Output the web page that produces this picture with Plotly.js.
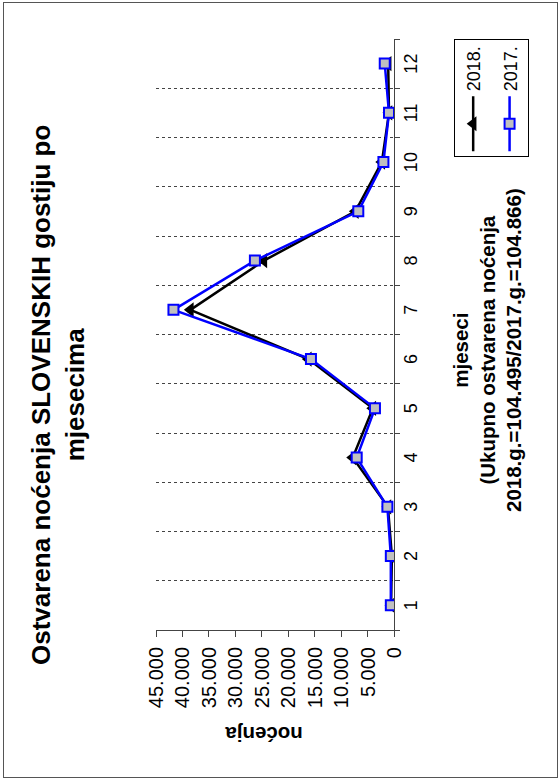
<!DOCTYPE html>
<html>
<head>
<meta charset="utf-8">
<script src="https://cdn.plot.ly/plotly-3.0.1.min.js"></script>
<style>
  html, body { margin:0; padding:0; width:560px; height:782px; overflow:hidden; background:#fff; }
  #wrap { position:absolute; left:0; top:0; width:782px; height:560px;
          transform-origin:0 0; transform:translate(0px,782px) rotate(-90deg); background:#fff; }
  #plot { position:absolute; left:0; top:0; width:782px; height:560px; }
  #frame { position:absolute; left:4px; top:3px; width:774px; height:553px; border:1px solid #555; pointer-events:none; }
</style>
</head>
<body>
<div id="wrap"><div id="plot"></div><div id="frame"></div></div>
<script>
// ---- data ----
const months = ['1','2','3','4','5','6','7','8','9','10','11','12'];
const nights2018 = [550, 400, 1150, 7800, 4000, 16200, 38500, 24600, 7300, 2300, 950, 1100];
const nights2017 = [600, 600, 1250, 7050, 3600, 15700, 41700, 26300, 6750, 2000, 950, 1750];
const seriesNames = ['2018.', '2017.'];
const valueTicks = [0, 5000, 10000, 15000, 20000, 25000, 30000, 35000, 40000, 45000];

const titleText = '<b>Ostvarena noćenja SLOVENSKIH gostiju po<br>mjesecima</b>';
const xTitleText = '<b>mjeseci<br>(Ukupno ostvarena noćenja<br>2018.g.=104.495/2017.g.=104.866)</b>';
const yTitleText = '<b>noćenja</b>';

const FONT = 'Liberation Sans, Arial, Helvetica, sans-serif';

const data = [
  {
    type:'scatter', mode:'lines+markers', name:seriesNames[0], legendgroup:'a',
    x:months, y:nights2018,
    line:{color:'#000000', width:2.5},
    marker:{symbol:'triangle-up', size:13, color:'#000000'}
  },
  {
    type:'scatter', mode:'lines+markers', name:seriesNames[1], legendgroup:'b',
    x:months, y:nights2017,
    line:{color:'#0000ff', width:2.5},
    marker:{symbol:'square', size:10, color:'#c0c0c0', line:{color:'#0000ff', width:2}}
  }
];

const layout = {
  width:782, height:560,
  margin:{l:152, r:39, t:156, b:166},
  paper_bgcolor:'#ffffff', plot_bgcolor:'#ffffff',
  separators:',.',
  font:{family:FONT, color:'#000'},
  showlegend:true,
  legend:{
    x:0.80, y:-0.252, xanchor:'left', yanchor:'top',
    bordercolor:'#000', borderwidth:1, bgcolor:'#fff',
    font:{family:FONT, size:18, color:'#000'},
    tracegroupgap:10, itemwidth:55
  },
  xaxis:{
    type:'category', range:[-0.5, 11.5], tickson:'boundaries',
    ticks:'outside', ticklen:5, tickcolor:'#444',
    showline:true, linecolor:'#444', linewidth:1,
    showgrid:true, gridcolor:'#444', griddash:'dot', gridwidth:1,
    tickfont:{family:FONT, size:18, color:'#000'},
    zeroline:false, fixedrange:true
  },
  yaxis:{
    range:[0, 45000], tickvals:valueTicks, tickformat:',d',
    ticks:'outside', ticklen:6, tickcolor:'#444',
    showline:true, linecolor:'#444', linewidth:1,
    showgrid:false, zeroline:false,
    tickfont:{family:FONT, size:20, color:'#000'},
    ticklabelstandoff:6, fixedrange:true
  },
  annotations:[
    {text:titleText, xref:'paper', yref:'paper', x:0.398, y:1.41, xanchor:'center', yanchor:'middle',
     showarrow:false, font:{family:FONT, size:26, color:'#000'}},
    {text:xTitleText, xref:'paper', yref:'paper', x:0.474, y:-0.39, xanchor:'center', yanchor:'middle',
     showarrow:false, font:{family:FONT, size:20.5, color:'#000'}},
    {text:yTitleText, xref:'paper', yref:'paper', x:-0.178, y:0.546, xanchor:'center', yanchor:'middle',
     textangle:-90, showarrow:false, font:{family:FONT, size:20.5, color:'#000'}}
  ]
};

Plotly.newPlot('plot', data, layout, {staticPlot:true, displayModeBar:false});
</script>
</body>
</html>
